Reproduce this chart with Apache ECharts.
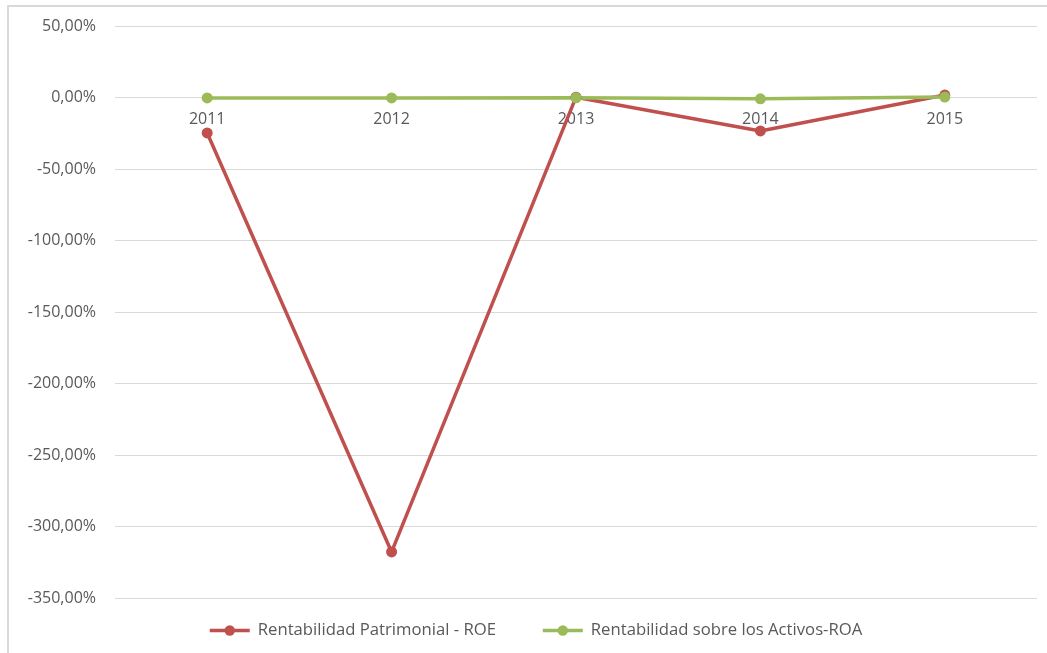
<!DOCTYPE html>
<html>
<head>
<meta charset="utf-8">
<script src="https://cdn.jsdelivr.net/npm/echarts@6/dist/echarts.min.js"></script>
<style>
  html, body { margin: 0; padding: 0; background: #fff; }
  #chart { width: 1047px; height: 653px; }
</style>
</head>
<body>
<div id="chart"></div>
<script>
// datos del gráfico (porcentajes)
const years = ['2011', '2012', '2013', '2014', '2015'];
const roe = [-24.8, -317.8, 0.2, -23.4, 1.7];
const roa = [-0.3, -0.3, -0.2, -0.9, 0.3];
const roeName = 'Rentabilidad Patrimonial - ROE';
const roaName = 'Rentabilidad sobre los Activos-ROA';

const font = 'Open Sans, Noto Sans, sans-serif';
const myChart = echarts.init(document.getElementById('chart'));

const option = {
    animation: false,
    textStyle: { fontFamily: font },
    graphic: [{
        type: 'rect',
        shape: { x: 8, y: 6, width: 1100, height: 700 },
        style: { fill: 'none', stroke: '#d9d9d9', lineWidth: 2 },
        silent: true,
        z: -1
    }],
    grid: {
        top: 26,
        left: 115,
        right: 10,
        bottom: 55
    },
    legend: {
        bottom: 9,
        left: 203,
        itemGap: 45,
        itemWidth: 40,
        itemHeight: 13,
        lineStyle: { width: 3.5 },
        textStyle: { color: '#595959', fontSize: 16.7, fontFamily: font, padding: [0, 0, 0, 3] },
        data: [roeName, roaName]
    },
    xAxis: {
        type: 'category',
        data: years,
        boundaryGap: true,
        // etiquetas colocadas bajo la línea del 0
        offset: -501,
        axisTick: { show: false },
        axisLine: { show: false },
        axisLabel: { color: '#595959', fontSize: 16, margin: 14 }
    },
    yAxis: {
        type: 'value',
        min: -350,
        max: 50,
        interval: 50,
        axisLine: { show: false },
        axisTick: { show: false },
        splitLine: { lineStyle: { color: '#d9d9d9' } },
        axisLabel: {
            color: '#595959',
            fontSize: 16,
            margin: 19,
            formatter: function (v) {
                return v.toFixed(2).replace('.', ',') + '%';
            }
        }
    },
    series: [
        {
            name: roeName,
            type: 'line',
            data: roe,
            symbol: 'circle',
            symbolSize: 11,
            lineStyle: { color: '#c0504d', width: 3.5 },
            itemStyle: { color: '#c0504d' }
        },
        {
            name: roaName,
            type: 'line',
            data: roa,
            symbol: 'circle',
            symbolSize: 11,
            lineStyle: { color: '#9bbb59', width: 3.5 },
            itemStyle: { color: '#9bbb59' }
        }
    ]
};

myChart.setOption(option);
</script>
</body>
</html>
